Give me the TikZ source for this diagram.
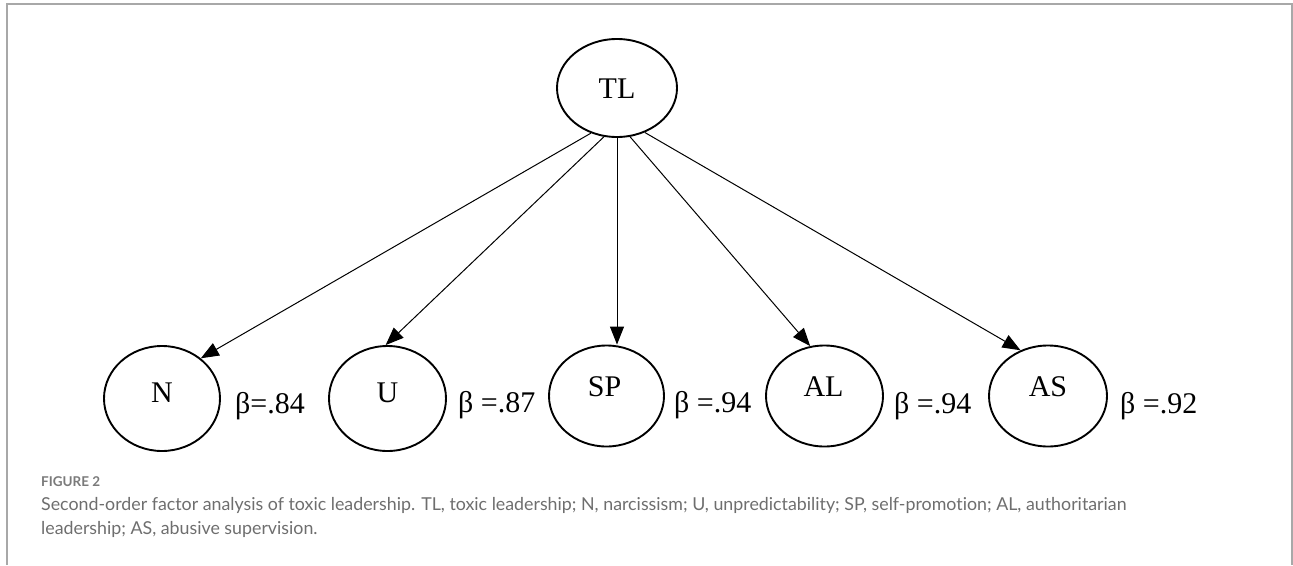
\documentclass[tikz,border=0pt]{standalone}
\usepackage{fontspec}
\setmainfont{Liberation Serif}
\newfontfamily\capfont[Ligatures=CommonOff]{Lato}
\usetikzlibrary{arrows.meta,shapes.geometric}
\definecolor{framec}{HTML}{A8A8A8}
\definecolor{capc}{HTML}{6E6E6E}
\definecolor{figc}{HTML}{7A7A7A}
\begin{document}
\begin{tikzpicture}[x=1pt,y=-1pt,
  lat/.style={draw=black,ellipse,line width=1.9pt,inner sep=0pt},
  lab/.style={font=\fontsize{30}{30}\selectfont,inner sep=0pt},
  betalab/.style={font=\fontsize{30}{30}\selectfont,inner sep=0pt,anchor=base west},
  arrowln/.style={draw=black,line width=1pt,-{Triangle[length=18pt,width=14pt]}},
  captext/.style={font=\capfont\fontsize{17.8}{24}\selectfont,text=capc,inner sep=0pt,anchor=base west}]
\useasboundingbox (0,0) rectangle (1293,565);
% frame
\draw[framec,line width=1.5pt] (7,565) -- (7,4) -- (1292,4) -- (1292,565);
% latent nodes
\node[lat,minimum width=120pt,minimum height=98pt] (TL) at (617,88) {};
\node[lat,minimum width=116pt,minimum height=105pt] (N) at (162,398.5) {};
\node[lat,minimum width=117pt,minimum height=105pt] (U) at (387.5,398.5) {};
\node[lat,minimum width=115pt,minimum height=101pt] (SP) at (606.5,396) {};
\node[lat,minimum width=117pt,minimum height=101pt] (AL) at (824.5,396) {};
\node[lat,minimum width=118pt,minimum height=101pt] (AS) at (1048,396) {};
% labels
\node[lab] (tTL) at ([yshift=-1pt]TL.center) {TL};
\node[lab] (tN) at ([yshift=6pt]N.center) {N};
\node[lab] (tU) at ([yshift=6pt]U.center) {U};
\node[lab] (tSP) at ([yshift=9pt,xshift=-2pt]SP.center) {SP};
\node[lab] (tAL) at ([yshift=9pt,xshift=-1pt]AL.center) {AL};
\node[lab] (tAS) at ([yshift=9pt]AS.center) {AS};
% betas
\node[betalab] (bN) at (235,413) {β=.84};
\node[betalab] (bU) at (458,412) {β =.87};
\node[betalab] (bSP) at (674,412) {β =.94};
\node[betalab] (bAL) at (894,413) {β =.94};
\node[betalab] (bAS) at (1120,413) {β =.92};
% paths
\draw[arrowln] (TL.240) -- (N.46);
\draw[arrowln] (TL.255) -- (U.92);
\draw[arrowln] (TL.south) -- (TL.south |- SP.north);
\draw[arrowln] (TL.285) -- (AL.106);
\draw[arrowln] (TL.302) -- (AS.121);
% caption
\node[anchor=base west,inner sep=0pt,text=figc,font=\capfont\bfseries\fontsize{13.5}{14}\selectfont] (fig) at (41,486) {FIGURE 2};
\node[captext] (c1) at (41,510) {Second-order factor analysis of toxic leadership. TL, toxic leadership; N, narcissism; U, unpredictability; SP, self-promotion; AL, authoritarian};
\node[captext] (c2) at (41,534) {leadership; AS, abusive supervision.};
\end{tikzpicture}
\end{document}
